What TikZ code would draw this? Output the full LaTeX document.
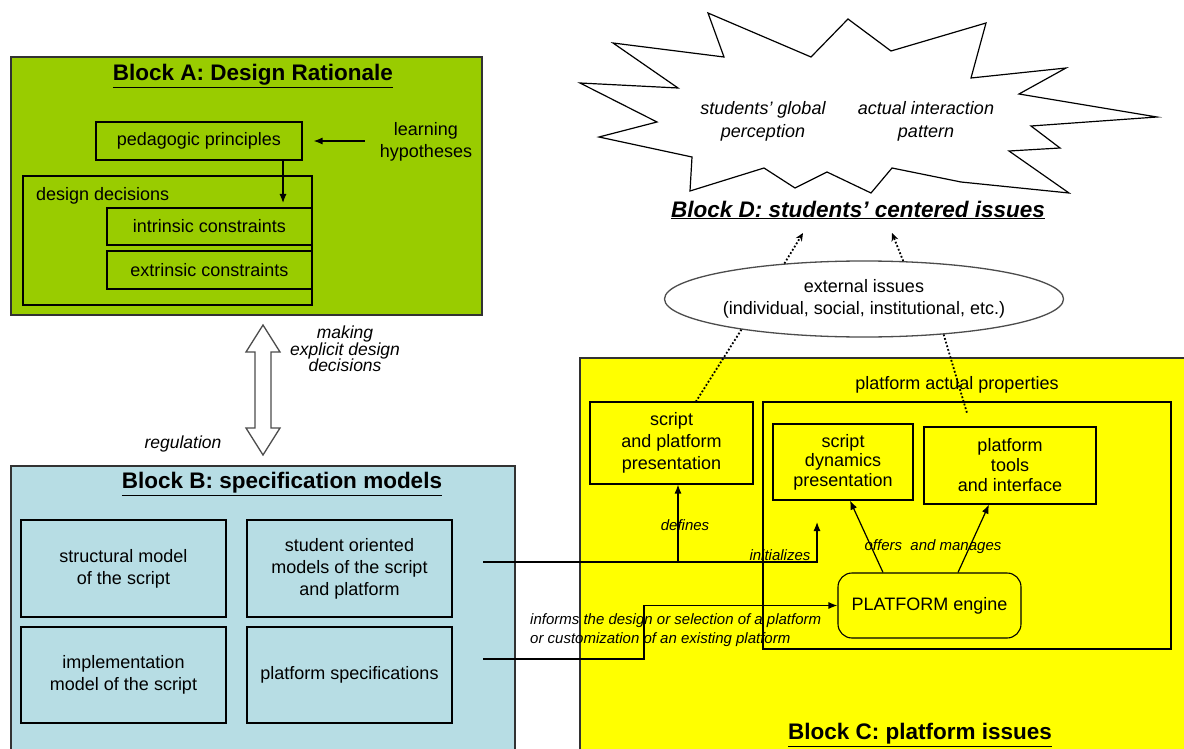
\documentclass[tikz,border=0pt]{standalone}
\usepackage{fontspec}
\setmainfont{Liberation Sans}
\usetikzlibrary{arrows.meta,shapes.geometric,calc}
\definecolor{gA}{RGB}{153,204,0}
\definecolor{bB}{RGB}{183,221,228}
\definecolor{yC}{RGB}{255,255,0}
\definecolor{bord}{RGB}{50,50,50}
\newcommand\mynorm{\fontsize{18}{22}\selectfont}
\newcommand\mytitle{\fontsize{22.5}{26}\selectfont\bfseries}
\newcommand\myital{\fontsize{15}{16.5}\selectfont\itshape}
\tikzset{
  block/.style={draw=bord, line width=1.6pt, inner sep=0pt},
  ibox/.style={draw=black, line width=1.1pt, inner sep=0pt, align=center, font=\mynorm},
  txt/.style={inner sep=0pt, align=center, font=\mynorm},
  lab/.style={inner sep=0pt, align=center, font=\myital},
  biglab/.style={inner sep=0pt, align=center, font=\fontsize{17.5}{16.7}\selectfont\itshape},
  ttl/.style={inner sep=0pt, font=\mytitle},
  arr/.style={line width=1.2pt, -{Latex[length=9pt,width=7pt]}},
  dotline/.style={dotted, line width=1.8pt},
  dotarr/.style={dotted, line width=1.8pt, -{Stealth[length=8pt,width=7pt]}}
}
\begin{document}
\begin{tikzpicture}[x=1pt,y=-1pt]
\useasboundingbox (0,0) rectangle (1184,749);
\fill[white] (0,0) rectangle (1184,749);

% ---------------- Block A
\node[block, fill=gA, minimum width=471pt, minimum height=258pt] (blockA) at (246.5,186) {};
\node[ttl] (titleA) at (253,76) {\underline{Block A: Design Rationale}};
\node[ibox, minimum width=206pt, minimum height=38pt] (peda) at (199,141) {pedagogic principles};
\node[txt] (learn) at (426,142) {learning\\hypotheses};
\node[ibox, minimum width=289pt, minimum height=129pt] (dd) at (167.5,240.5) {};
\node[txt, anchor=west] (ddlab) at (36,196) {design decisions};
\node[ibox, minimum width=205pt, minimum height=37pt] (intr) at (209.5,226.5) {intrinsic constraints};
\node[ibox, minimum width=205pt, minimum height=38pt] (extr) at (209.5,270) {extrinsic constraints};
\draw[arr] ([xshift=-15pt]learn.west |- peda.east) -- ([xshift=11pt]peda.east);
\coordinate (ddin) at (283,203);
\draw[arr] (peda.south -| ddin) -- (ddin);

% ---------------- double arrow between A and B
\draw[line width=1.3pt, draw=gray!60!black, fill=white, line join=miter]
  (263,325) -- (280,352) -- (271,352) -- (271,428) -- (280,428) -- (263,455)
  -- (246,428) -- (255,428) -- (255,352) -- (246,352) -- cycle;
\node[biglab] (mk) at (345,349) {making\\explicit design\\decisions};
\node[biglab] (reg) at (183,444) {regulation};

% ---------------- Block B
\node[block, fill=bB, minimum width=504pt, minimum height=300pt] (blockB) at (263,616) {};
\node[ttl] (titleB) at (282,484) {\underline{Block B: specification models}};
\node[ibox, minimum width=205pt, minimum height=97pt] (struc) at (123.5,568.5) {structural model\\of the script};
\node[ibox, minimum width=205pt, minimum height=97pt] (sob) at (349.5,568.5) {student oriented\\models of the script\\and platform};
\node[ibox, minimum width=205pt, minimum height=96pt] (impl) at (123.5,675) {implementation\\model of the script};
\node[ibox, minimum width=205pt, minimum height=96pt] (pspec) at (349.5,675) {platform specifications};

% ---------------- Block C
\node[block, fill=yC, minimum width=610pt, minimum height=410pt] (blockC) at (885,563) {};
\node[ttl] (titleC) at (920,735) {\underline{Block C: platform issues}};
\node[txt] (paplab) at (957,385) {platform actual properties};
\node[ibox, minimum width=408pt, minimum height=247pt] (pap) at (967,525.5) {};
\node[ibox, minimum width=163pt, minimum height=82pt] (spp) at (671.5,443) {script\\and platform\\presentation};
\node[ibox, minimum width=140pt, minimum height=76pt, font=\fontsize{18}{19.5}\selectfont] (sdp) at (843,462) {script\\dynamics\\presentation};
\node[ibox, minimum width=172pt, minimum height=77pt, font=\fontsize{18}{20}\selectfont] (pti) at (1010,465.5) {platform\\tools\\and interface};
\node[ibox, rounded corners=14pt, minimum width=183pt, minimum height=65pt] (eng) at (929.5,605.5) {PLATFORM engine};

% connectors in C
\coordinate (soR) at (483,562);
\coordinate (initTip) at (817,522);
\draw[arr] (soR) -- (soR -| initTip) -- (initTip);
\coordinate (defTop) at ([xshift=6.5pt]spp.south);
\draw[arr] (defTop |- soR) -- (defTop);
\coordinate (psR) at (483,659);
\draw[arr] (psR) -- ++(161,0) |- (eng.west);
\draw[arr] ([xshift=-46.5pt]eng.north) -- ([xshift=7pt]sdp.south);
\draw[arr] ([xshift=28.5pt]eng.north) -- ([xshift=-21pt]pti.south);
\node[lab] (deflab) at (685,525) {defines};
\node[lab] (inilab) at (780,555) {initializes};
\node[lab] (offlab) at (933,547) {offers~ and manages};
\node[lab, anchor=west, align=left, font=\fontsize{15}{19}\selectfont\itshape] (inflab) at (530,630.5) {informs the design or selection of a platform\\or customization of an existing platform};

% ---------------- Block D
\draw[line width=1.2pt, fill=white, line join=miter]
  (708,13) -- (811,57) -- (848,19) -- (891,51) -- (986,23) -- (971,78)
  -- (1066,68) -- (1019,94) -- (1157,117) -- (1031,126) -- (1060,148)
  -- (1009,151) -- (1069,193) -- (961,182) -- (892,168) -- (871,193)
  -- (827,172) -- (795,188) -- (764,168) -- (690,191) -- (692,157)
  -- (599,137) -- (657,122) -- (580,83) -- (678,88) -- (613,43)
  -- (724,57) -- cycle;
\node[txt, font=\fontsize{18}{23}\selectfont\itshape] (sgp) at (763,121.5) {students' global\\perception};
\node[txt, font=\fontsize{18}{23}\selectfont\itshape] (aip) at (926,121.5) {actual interaction\\pattern};
\node[ttl, font=\mytitle\itshape] (titleD) at (858,210) {\underline{Block D: students' centered issues}};

% ---------------- external issues ellipse
\node[ellipse, draw=gray!60!black, line width=1.3pt, fill=white, minimum width=398pt, minimum height=76pt, inner sep=0pt, align=center, font=\mynorm] (ext) at (864,299) {external issues\\(individual, social, institutional, etc.)};
\coordinate (dL) at (803,233);
\coordinate (dR) at (892,233);
\draw[dotarr] (ext.156) -- (dL);
\draw[dotarr] (ext.44) -- (dR);
\draw[dotline] (ext.194) -- ([xshift=24.5pt]spp.north);
\coordinate (extEnd) at (967,413);
\draw[dotline] (ext.-24) -- (extEnd);
\end{tikzpicture}
\end{document}
